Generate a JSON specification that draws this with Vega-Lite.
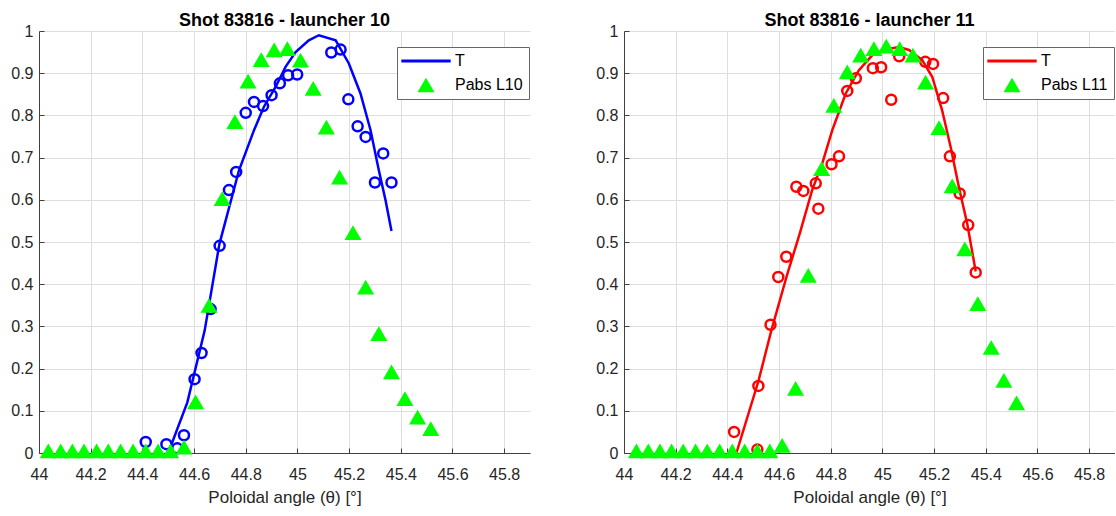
{
  "$schema": "https://vega.github.io/schema/vega-lite/v6.json",
  "background": "white",
  "padding": {"left": 10, "top": 12, "right": 0, "bottom": 5},
  "spacing": 94,
  "bounds": "flush",
  "config": {
    "font": "Liberation Sans",
    "view": {"stroke": null},
    "axis": {
      "domainColor": "#404040",
      "domainWidth": 1,
      "tickColor": "#404040",
      "tickSize": -5,
      "labelFontSize": 16,
      "labelColor": "#262626",
      "labelFlush": false,
      "gridColor": "#dedede",
      "gridWidth": 1,
      "titleFontSize": 17,
      "titleFontWeight": "normal",
      "titleColor": "#262626"
    },
    "axisX": {"labelPadding": 18, "titlePadding": 7},
    "axisY": {"labelPadding": 11},
    "title": {"fontSize": 18, "fontWeight": "bold", "color": "#000000", "offset": -7, "frame": "group", "anchor": "middle"}
  },
  "resolve": {
    "scale": {"color": "independent", "shape": "independent", "x": "independent", "y": "independent"},
    "legend": {"color": "independent", "shape": "independent"}
  },
  "datasets": {
    "L10": [
      {"kind": "meas", "series": "T", "x": 44.413, "y": 0.026},
      {"kind": "meas", "series": "T", "x": 44.493, "y": 0.021},
      {"kind": "meas", "series": "T", "x": 44.535, "y": 0.011},
      {"kind": "meas", "series": "T", "x": 44.561, "y": 0.042},
      {"kind": "meas", "series": "T", "x": 44.602, "y": 0.175},
      {"kind": "meas", "series": "T", "x": 44.629, "y": 0.237},
      {"kind": "meas", "series": "T", "x": 44.664, "y": 0.341},
      {"kind": "meas", "series": "T", "x": 44.699, "y": 0.491},
      {"kind": "meas", "series": "T", "x": 44.735, "y": 0.623},
      {"kind": "meas", "series": "T", "x": 44.763, "y": 0.666},
      {"kind": "meas", "series": "T", "x": 44.800, "y": 0.806},
      {"kind": "meas", "series": "T", "x": 44.832, "y": 0.832},
      {"kind": "meas", "series": "T", "x": 44.867, "y": 0.822},
      {"kind": "meas", "series": "T", "x": 44.900, "y": 0.848},
      {"kind": "meas", "series": "T", "x": 44.932, "y": 0.876},
      {"kind": "meas", "series": "T", "x": 44.964, "y": 0.895},
      {"kind": "meas", "series": "T", "x": 44.999, "y": 0.897},
      {"kind": "meas", "series": "T", "x": 45.131, "y": 0.949},
      {"kind": "meas", "series": "T", "x": 45.167, "y": 0.956},
      {"kind": "meas", "series": "T", "x": 45.197, "y": 0.838},
      {"kind": "meas", "series": "T", "x": 45.233, "y": 0.774},
      {"kind": "meas", "series": "T", "x": 45.264, "y": 0.749},
      {"kind": "meas", "series": "T", "x": 45.300, "y": 0.641},
      {"kind": "meas", "series": "T", "x": 45.332, "y": 0.710},
      {"kind": "meas", "series": "T", "x": 45.364, "y": 0.641},
      {"kind": "fit", "series": "T", "x": 44.500, "y": 0.0},
      {"kind": "fit", "series": "T", "x": 44.574, "y": 0.12},
      {"kind": "fit", "series": "T", "x": 44.641, "y": 0.29},
      {"kind": "fit", "series": "T", "x": 44.698, "y": 0.495},
      {"kind": "fit", "series": "T", "x": 44.774, "y": 0.670},
      {"kind": "fit", "series": "T", "x": 44.832, "y": 0.765},
      {"kind": "fit", "series": "T", "x": 44.870, "y": 0.820},
      {"kind": "fit", "series": "T", "x": 44.916, "y": 0.868},
      {"kind": "fit", "series": "T", "x": 44.954, "y": 0.915},
      {"kind": "fit", "series": "T", "x": 44.993, "y": 0.950},
      {"kind": "fit", "series": "T", "x": 45.044, "y": 0.978},
      {"kind": "fit", "series": "T", "x": 45.083, "y": 0.990},
      {"kind": "fit", "series": "T", "x": 45.148, "y": 0.978},
      {"kind": "fit", "series": "T", "x": 45.199, "y": 0.923},
      {"kind": "fit", "series": "T", "x": 45.244, "y": 0.852},
      {"kind": "fit", "series": "T", "x": 45.283, "y": 0.765},
      {"kind": "fit", "series": "T", "x": 45.315, "y": 0.670},
      {"kind": "fit", "series": "T", "x": 45.341, "y": 0.599},
      {"kind": "fit", "series": "T", "x": 45.364, "y": 0.526},
      {"kind": "pabs", "series": "Pabs L10", "x": 44.036, "y": 0.005},
      {"kind": "pabs", "series": "Pabs L10", "x": 44.084, "y": 0.005},
      {"kind": "pabs", "series": "Pabs L10", "x": 44.129, "y": 0.005},
      {"kind": "pabs", "series": "Pabs L10", "x": 44.174, "y": 0.005},
      {"kind": "pabs", "series": "Pabs L10", "x": 44.223, "y": 0.005},
      {"kind": "pabs", "series": "Pabs L10", "x": 44.268, "y": 0.005},
      {"kind": "pabs", "series": "Pabs L10", "x": 44.316, "y": 0.005},
      {"kind": "pabs", "series": "Pabs L10", "x": 44.364, "y": 0.005},
      {"kind": "pabs", "series": "Pabs L10", "x": 44.413, "y": 0.005},
      {"kind": "pabs", "series": "Pabs L10", "x": 44.461, "y": 0.005},
      {"kind": "pabs", "series": "Pabs L10", "x": 44.509, "y": 0.005},
      {"kind": "pabs", "series": "Pabs L10", "x": 44.561, "y": 0.014},
      {"kind": "pabs", "series": "Pabs L10", "x": 44.606, "y": 0.121},
      {"kind": "pabs", "series": "Pabs L10", "x": 44.658, "y": 0.350},
      {"kind": "pabs", "series": "Pabs L10", "x": 44.709, "y": 0.603},
      {"kind": "pabs", "series": "Pabs L10", "x": 44.758, "y": 0.785},
      {"kind": "pabs", "series": "Pabs L10", "x": 44.809, "y": 0.881},
      {"kind": "pabs", "series": "Pabs L10", "x": 44.860, "y": 0.932},
      {"kind": "pabs", "series": "Pabs L10", "x": 44.910, "y": 0.955},
      {"kind": "pabs", "series": "Pabs L10", "x": 44.961, "y": 0.958},
      {"kind": "pabs", "series": "Pabs L10", "x": 45.012, "y": 0.931},
      {"kind": "pabs", "series": "Pabs L10", "x": 45.061, "y": 0.864},
      {"kind": "pabs", "series": "Pabs L10", "x": 45.112, "y": 0.772},
      {"kind": "pabs", "series": "Pabs L10", "x": 45.163, "y": 0.654},
      {"kind": "pabs", "series": "Pabs L10", "x": 45.215, "y": 0.522},
      {"kind": "pabs", "series": "Pabs L10", "x": 45.264, "y": 0.393},
      {"kind": "pabs", "series": "Pabs L10", "x": 45.315, "y": 0.283},
      {"kind": "pabs", "series": "Pabs L10", "x": 45.364, "y": 0.192},
      {"kind": "pabs", "series": "Pabs L10", "x": 45.416, "y": 0.129},
      {"kind": "pabs", "series": "Pabs L10", "x": 45.465, "y": 0.085},
      {"kind": "pabs", "series": "Pabs L10", "x": 45.516, "y": 0.058}
    ],
    "L11": [
      {"kind": "meas", "series": "T", "x": 44.426, "y": 0.050},
      {"kind": "meas", "series": "T", "x": 44.516, "y": 0.008},
      {"kind": "meas", "series": "T", "x": 44.520, "y": 0.159},
      {"kind": "meas", "series": "T", "x": 44.567, "y": 0.304},
      {"kind": "meas", "series": "T", "x": 44.597, "y": 0.417},
      {"kind": "meas", "series": "T", "x": 44.628, "y": 0.465},
      {"kind": "meas", "series": "T", "x": 44.667, "y": 0.631},
      {"kind": "meas", "series": "T", "x": 44.694, "y": 0.621},
      {"kind": "meas", "series": "T", "x": 44.742, "y": 0.639},
      {"kind": "meas", "series": "T", "x": 44.752, "y": 0.579},
      {"kind": "meas", "series": "T", "x": 44.803, "y": 0.684},
      {"kind": "meas", "series": "T", "x": 44.832, "y": 0.703},
      {"kind": "meas", "series": "T", "x": 44.864, "y": 0.858},
      {"kind": "meas", "series": "T", "x": 44.897, "y": 0.888},
      {"kind": "meas", "series": "T", "x": 44.963, "y": 0.912},
      {"kind": "meas", "series": "T", "x": 44.995, "y": 0.914},
      {"kind": "meas", "series": "T", "x": 45.034, "y": 0.837},
      {"kind": "meas", "series": "T", "x": 45.065, "y": 0.940},
      {"kind": "meas", "series": "T", "x": 45.166, "y": 0.927},
      {"kind": "meas", "series": "T", "x": 45.196, "y": 0.922},
      {"kind": "meas", "series": "T", "x": 45.235, "y": 0.841},
      {"kind": "meas", "series": "T", "x": 45.261, "y": 0.703},
      {"kind": "meas", "series": "T", "x": 45.299, "y": 0.615},
      {"kind": "meas", "series": "T", "x": 45.332, "y": 0.540},
      {"kind": "meas", "series": "T", "x": 45.361, "y": 0.428},
      {"kind": "fit", "series": "T", "x": 44.435, "y": 0.0},
      {"kind": "fit", "series": "T", "x": 44.520, "y": 0.17},
      {"kind": "fit", "series": "T", "x": 44.570, "y": 0.29},
      {"kind": "fit", "series": "T", "x": 44.630, "y": 0.42},
      {"kind": "fit", "series": "T", "x": 44.680, "y": 0.52},
      {"kind": "fit", "series": "T", "x": 44.728, "y": 0.623},
      {"kind": "fit", "series": "T", "x": 44.767, "y": 0.686},
      {"kind": "fit", "series": "T", "x": 44.806, "y": 0.765},
      {"kind": "fit", "series": "T", "x": 44.858, "y": 0.852},
      {"kind": "fit", "series": "T", "x": 44.909, "y": 0.907},
      {"kind": "fit", "series": "T", "x": 44.961, "y": 0.943},
      {"kind": "fit", "series": "T", "x": 45.012, "y": 0.956},
      {"kind": "fit", "series": "T", "x": 45.064, "y": 0.962},
      {"kind": "fit", "series": "T", "x": 45.103, "y": 0.955},
      {"kind": "fit", "series": "T", "x": 45.154, "y": 0.931},
      {"kind": "fit", "series": "T", "x": 45.193, "y": 0.891},
      {"kind": "fit", "series": "T", "x": 45.231, "y": 0.812},
      {"kind": "fit", "series": "T", "x": 45.264, "y": 0.725},
      {"kind": "fit", "series": "T", "x": 45.296, "y": 0.630},
      {"kind": "fit", "series": "T", "x": 45.328, "y": 0.544},
      {"kind": "fit", "series": "T", "x": 45.361, "y": 0.430},
      {"kind": "pabs", "series": "Pabs L11", "x": 44.048, "y": 0.005},
      {"kind": "pabs", "series": "Pabs L11", "x": 44.094, "y": 0.005},
      {"kind": "pabs", "series": "Pabs L11", "x": 44.139, "y": 0.005},
      {"kind": "pabs", "series": "Pabs L11", "x": 44.184, "y": 0.005},
      {"kind": "pabs", "series": "Pabs L11", "x": 44.229, "y": 0.005},
      {"kind": "pabs", "series": "Pabs L11", "x": 44.277, "y": 0.005},
      {"kind": "pabs", "series": "Pabs L11", "x": 44.322, "y": 0.005},
      {"kind": "pabs", "series": "Pabs L11", "x": 44.370, "y": 0.005},
      {"kind": "pabs", "series": "Pabs L11", "x": 44.419, "y": 0.005},
      {"kind": "pabs", "series": "Pabs L11", "x": 44.467, "y": 0.005},
      {"kind": "pabs", "series": "Pabs L11", "x": 44.516, "y": 0.005},
      {"kind": "pabs", "series": "Pabs L11", "x": 44.564, "y": 0.005},
      {"kind": "pabs", "series": "Pabs L11", "x": 44.612, "y": 0.018},
      {"kind": "pabs", "series": "Pabs L11", "x": 44.664, "y": 0.153},
      {"kind": "pabs", "series": "Pabs L11", "x": 44.713, "y": 0.421},
      {"kind": "pabs", "series": "Pabs L11", "x": 44.765, "y": 0.674},
      {"kind": "pabs", "series": "Pabs L11", "x": 44.812, "y": 0.824},
      {"kind": "pabs", "series": "Pabs L11", "x": 44.864, "y": 0.903},
      {"kind": "pabs", "series": "Pabs L11", "x": 44.916, "y": 0.943},
      {"kind": "pabs", "series": "Pabs L11", "x": 44.967, "y": 0.958},
      {"kind": "pabs", "series": "Pabs L11", "x": 45.015, "y": 0.964},
      {"kind": "pabs", "series": "Pabs L11", "x": 45.067, "y": 0.958},
      {"kind": "pabs", "series": "Pabs L11", "x": 45.118, "y": 0.943},
      {"kind": "pabs", "series": "Pabs L11", "x": 45.167, "y": 0.879},
      {"kind": "pabs", "series": "Pabs L11", "x": 45.219, "y": 0.771},
      {"kind": "pabs", "series": "Pabs L11", "x": 45.270, "y": 0.633},
      {"kind": "pabs", "series": "Pabs L11", "x": 45.319, "y": 0.484},
      {"kind": "pabs", "series": "Pabs L11", "x": 45.369, "y": 0.354},
      {"kind": "pabs", "series": "Pabs L11", "x": 45.421, "y": 0.250},
      {"kind": "pabs", "series": "Pabs L11", "x": 45.470, "y": 0.172},
      {"kind": "pabs", "series": "Pabs L11", "x": 45.519, "y": 0.119}
    ]
  },
  "hconcat": [
    {
      "width": 491,
      "height": 422,
      "title": {"text": "Shot 83816 - launcher 10"},
      "data": {"name": "L10"},
      "encoding": {
        "x": {"field": "x", "type": "quantitative", "scale": {"domain": [44, 45.9], "nice": false, "zero": false},
              "axis": {"title": "Poloidal angle (θ) [°]", "values": [44, 44.2, 44.4, 44.6, 44.8, 45, 45.2, 45.4, 45.6, 45.8], "format": "~g"}},
        "y": {"field": "y", "type": "quantitative", "scale": {"domain": [0, 1], "nice": false},
              "axis": {"title": null, "values": [0, 0.1, 0.2, 0.3, 0.4, 0.5, 0.6, 0.7, 0.8, 0.9, 1], "format": "~g"}}
      },
      "layer": [
        {"transform": [{"filter": "datum.kind === 'meas'"}],
         "mark": {"type": "point", "shape": "circle", "filled": false, "color": "#0000ff", "strokeWidth": 2.5, "size": 100, "opacity": 1}},
        {"transform": [{"filter": "datum.kind === 'fit'"}],
         "mark": {"type": "line", "strokeWidth": 2.5, "opacity": 1},
         "encoding": {"color": {"field": "series", "type": "nominal", "scale": {"domain": ["T", "Pabs L10"], "range": ["#0000ff", "#00ff00"]},
           "legend": {"orient": "none", "legendX": 358, "legendY": 16, "title": null, "padding": 6, "symbolOffset": 15, "labelOffset": 21, "rowPadding": 8, "labelFontSize": 16, "labelColor": "#000000", "strokeColor": "#666666", "fillColor": "#ffffff", "symbolSize": 290, "symbolOpacity": 1,
             "encode": {"symbols": {"update": {"stroke": {"signal": "datum.value === 'T' ? '#0000ff' : '#00ff00'"}, "fill": {"signal": "datum.value === 'T' ? 'transparent' : '#00ff00'"}, "strokeWidth": {"signal": "datum.value === 'T' ? 3 : 0"}}}}}}}},
        {"transform": [{"filter": "datum.kind === 'pabs'"}],
         "mark": {"type": "point", "filled": true, "size": 290, "opacity": 1},
         "encoding": {
           "color": {"field": "series", "type": "nominal", "scale": {"domain": ["T", "Pabs L10"], "range": ["#0000ff", "#00ff00"]},
             "legend": {"orient": "none", "legendX": 358, "legendY": 16, "title": null, "padding": 6, "symbolOffset": 15, "labelOffset": 21, "rowPadding": 8, "labelFontSize": 16, "labelColor": "#000000", "strokeColor": "#666666", "fillColor": "#ffffff", "symbolSize": 290, "symbolOpacity": 1,
               "encode": {"symbols": {"update": {"stroke": {"signal": "datum.value === 'T' ? '#0000ff' : '#00ff00'"}, "fill": {"signal": "datum.value === 'T' ? 'transparent' : '#00ff00'"}, "strokeWidth": {"signal": "datum.value === 'T' ? 3 : 0"}}}}}},
           "shape": {"field": "series", "type": "nominal", "scale": {"domain": ["T", "Pabs L10"], "range": ["M-2.9,0H2.9", "triangle-up"]},
             "legend": {"orient": "none", "legendX": 358, "legendY": 16, "title": null, "padding": 6, "symbolOffset": 15, "labelOffset": 21, "rowPadding": 8, "labelFontSize": 16, "labelColor": "#000000", "strokeColor": "#666666", "fillColor": "#ffffff", "symbolSize": 290, "symbolOpacity": 1,
               "encode": {"symbols": {"update": {"stroke": {"signal": "datum.value === 'T' ? '#0000ff' : '#00ff00'"}, "fill": {"signal": "datum.value === 'T' ? 'transparent' : '#00ff00'"}, "strokeWidth": {"signal": "datum.value === 'T' ? 3 : 0"}}}}}}
         }}
      ]
    },
    {
      "width": 491,
      "height": 422,
      "title": {"text": "Shot 83816 - launcher 11"},
      "data": {"name": "L11"},
      "encoding": {
        "x": {"field": "x", "type": "quantitative", "scale": {"domain": [44, 45.9], "nice": false, "zero": false},
              "axis": {"title": "Poloidal angle (θ) [°]", "values": [44, 44.2, 44.4, 44.6, 44.8, 45, 45.2, 45.4, 45.6, 45.8], "format": "~g"}},
        "y": {"field": "y", "type": "quantitative", "scale": {"domain": [0, 1], "nice": false},
              "axis": {"title": null, "values": [0, 0.1, 0.2, 0.3, 0.4, 0.5, 0.6, 0.7, 0.8, 0.9, 1], "format": "~g"}}
      },
      "layer": [
        {"transform": [{"filter": "datum.kind === 'meas'"}],
         "mark": {"type": "point", "shape": "circle", "filled": false, "color": "#ff0000", "strokeWidth": 2.5, "size": 100, "opacity": 1}},
        {"transform": [{"filter": "datum.kind === 'fit'"}],
         "mark": {"type": "line", "strokeWidth": 2.5, "opacity": 1},
         "encoding": {"color": {"field": "series", "type": "nominal", "scale": {"domain": ["T", "Pabs L11"], "range": ["#ff0000", "#00ff00"]},
           "legend": {"orient": "none", "legendX": 359, "legendY": 16, "title": null, "padding": 6, "symbolOffset": 15, "labelOffset": 21, "rowPadding": 8, "labelFontSize": 16, "labelColor": "#000000", "strokeColor": "#666666", "fillColor": "#ffffff", "symbolSize": 290, "symbolOpacity": 1,
             "encode": {"symbols": {"update": {"stroke": {"signal": "datum.value === 'T' ? '#ff0000' : '#00ff00'"}, "fill": {"signal": "datum.value === 'T' ? 'transparent' : '#00ff00'"}, "strokeWidth": {"signal": "datum.value === 'T' ? 3 : 0"}}}}}}}},
        {"transform": [{"filter": "datum.kind === 'pabs'"}],
         "mark": {"type": "point", "filled": true, "size": 290, "opacity": 1},
         "encoding": {
           "color": {"field": "series", "type": "nominal", "scale": {"domain": ["T", "Pabs L11"], "range": ["#ff0000", "#00ff00"]},
             "legend": {"orient": "none", "legendX": 359, "legendY": 16, "title": null, "padding": 6, "symbolOffset": 15, "labelOffset": 21, "rowPadding": 8, "labelFontSize": 16, "labelColor": "#000000", "strokeColor": "#666666", "fillColor": "#ffffff", "symbolSize": 290, "symbolOpacity": 1,
               "encode": {"symbols": {"update": {"stroke": {"signal": "datum.value === 'T' ? '#ff0000' : '#00ff00'"}, "fill": {"signal": "datum.value === 'T' ? 'transparent' : '#00ff00'"}, "strokeWidth": {"signal": "datum.value === 'T' ? 3 : 0"}}}}}},
           "shape": {"field": "series", "type": "nominal", "scale": {"domain": ["T", "Pabs L11"], "range": ["M-2.9,0H2.9", "triangle-up"]},
             "legend": {"orient": "none", "legendX": 359, "legendY": 16, "title": null, "padding": 6, "symbolOffset": 15, "labelOffset": 21, "rowPadding": 8, "labelFontSize": 16, "labelColor": "#000000", "strokeColor": "#666666", "fillColor": "#ffffff", "symbolSize": 290, "symbolOpacity": 1,
               "encode": {"symbols": {"update": {"stroke": {"signal": "datum.value === 'T' ? '#ff0000' : '#00ff00'"}, "fill": {"signal": "datum.value === 'T' ? 'transparent' : '#00ff00'"}, "strokeWidth": {"signal": "datum.value === 'T' ? 3 : 0"}}}}}}
         }}
      ]
    }
  ]
}
